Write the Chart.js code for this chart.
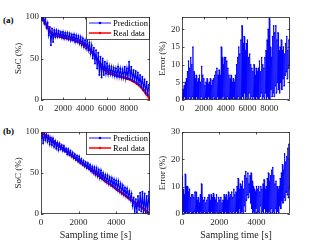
<!DOCTYPE html>
<html>
<head>
<meta charset="utf-8">
<script src="https://cdn.jsdelivr.net/npm/chart.js@4.4.1/dist/chart.umd.min.js"></script>
<style>
body{margin:0;background:#fff;width:321px;height:241px;overflow:hidden;position:relative}
canvas{position:absolute}
.tag{position:absolute;font:bold 9px "Liberation Serif",serif;line-height:10px;color:#000}
</style>
</head>
<body>
<div class="tag" style="left:3px;top:15px">(a)</div>
<div class="tag" style="left:3px;top:126px">(b)</div>
<canvas id="socA" width="160" height="115" style="left:0;top:0"></canvas>
<canvas id="errA" width="164" height="115" style="left:157px;top:0"></canvas>
<canvas id="socB" width="160" height="126" style="left:0;top:115px"></canvas>
<canvas id="errB" width="164" height="126" style="left:157px;top:115px"></canvas>
<script>
// sampling intervals (s) of each recorded series
var stepPredA = 100, stepRealA = 300, stepErrA = 50;
var stepPredB = 58, stepRealB = 290, stepErrB = 29;

// tick positions
var xTicksA = [0, 2000, 4000, 6000, 8000];
var xTicksB = [0, 2000, 4000];
var yTicksSoc = [0, 50, 100];
var yTicksErrA = [0, 5, 10, 15, 20];
var yTicksErrB = [0, 10, 20, 30];

// test (a)
var realA = [100, 95, 87.5, 81.5, 79, 77.5, 76.5, 75.6, 74.6, 73.6, 72.4, 71, 69, 66.6, 64, 60, 55,
	49, 43, 37.5, 34.4, 32.5, 31, 29.6, 28.4, 27.2, 26, 24.6, 22.5, 19.8, 16.8, 12, 6.6, 1.2];
var predA = [100, 96, 100, 92, 98, 87, 93, 78, 88, 66, 86, 70, 84, 76, 84, 76, 83, 76, 82, 75,
	82, 74, 81, 74, 81, 73, 80, 72, 79, 72, 79, 70, 78, 70, 77, 68, 76, 66, 74, 64,
	72, 62, 71, 60, 69, 56, 66, 50, 63, 44, 60, 38, 57, 30, 52, 27, 50, 30, 46, 32,
	44, 31, 41, 31, 40, 30, 39, 29, 38, 28, 40, 28, 38, 27, 37, 27, 40, 26, 38, 25,
	46, 25, 40, 23, 36, 22, 35, 20, 33, 18, 30, 15, 28, 12, 25, 8, 22, 6, 18, 20];
var errA = [2, 0.3, 3, 0.5, 4, 1, 5, 0.2, 6, 0.5,
	8, 0.4, 11, 1, 9, 0.3, 12, 0.5, 10, 1,
	15, 0.3, 8, 0.5, 6, 0.2, 7, 1, 5, 0.4,
	6, 0.5, 7, 0.3, 5, 1, 9.5, 0.2, 7, 0.5,
	6, 0.3, 4, 0.8, 5, 0.2, 6, 0.5, 4.5, 1,
	5, 0.3, 6, 0.5, 4, 0.2, 5.5, 1, 6, 0.4,
	7, 0.5, 8, 0.2, 9, 1, 7, 0.3, 8.5, 0.5,
	7, 0.3, 15, 0.5, 12, 1, 10, 0.2, 12, 0.5,
	12, 0.3, 11, 1, 9, 0.5, 7, 0.2, 6, 0.4,
	7, 0.5, 5, 0.3, 6, 1, 5, 0.2, 7, 0.5,
	10, 0.4, 12, 1, 15, 0.3, 13, 0.5, 17, 0.2,
	21, 1, 16, 0.5, 18, 2, 14, 0.3, 16, 1,
	17, 0.5, 12, 2, 13, 0.4, 10, 1, 9, 0.3,
	8, 1, 10, 0.5, 7, 0.2, 9, 1, 8, 0.5,
	9, 0.3, 11, 1, 8, 2, 12, 0.5, 10, 1,
	9, 0.5, 12, 2, 14, 0.3, 17, 1, 20, 0.5,
	23, 0.2, 15, 3, 12, 1, 18, 2, 21, 1,
	19, 4, 21, 2, 17, 5, 19, 3, 14, 2,
	15, 5, 17, 3, 14, 6, 15, 4, 13, 7,
	16, 8, 18, 6, 14, 9, 17, 10, 23];

// test (b)
var realB = [100, 95.2, 90.1, 85, 79.6, 74.5, 69.4, 64.5, 59.6, 54.5, 49.6, 44.6, 39.4, 34.6,
	29.5, 24.6, 19.8, 15, 10, 5.2, 0];
var predB = [92, 100, 86, 99, 90, 97, 88, 95, 85, 93, 84, 92, 82, 89, 80, 87, 78, 86, 79, 84,
	77, 83, 76, 80, 73, 79, 72, 77, 70, 75, 68, 73, 66, 71, 64, 70, 62, 67, 60, 65,
	58, 63, 56, 62, 55, 60, 52, 58, 50, 57, 48, 56, 46, 54, 44, 53, 43, 50, 41, 48,
	39, 47, 37, 45, 36, 44, 34, 42, 32, 41, 30, 40, 28, 37, 26, 35, 24, 32, 22, 31,
	20, 28, 17, 25, 10, 20, 0, 18, 2, 22, 5, 26, 3, 27, 1, 25, 0, 22, 2, 27, 5];
var errB = [14, 0.5, 9, 1, 7, 0.3, 14.5, 0.5, 10, 1,
	10, 0.3, 8, 0.5, 9, 1, 6, 0.2, 7, 0.5,
	7, 0.3, 6, 1, 8, 0.5, 8, 0.2, 5, 1,
	6, 0.5, 4, 0.3, 7, 1, 11, 0.2, 6, 0.5,
	5, 1, 6, 0.3, 4, 0.5, 5, 0.2, 6, 1,
	7, 0.5, 5, 0.3, 7, 1, 6, 0.2, 7.5, 0.5,
	6, 0.3, 5, 1, 7, 0.5, 4, 0.2, 6, 1,
	5, 0.5, 6, 0.3, 4, 1, 5, 0.2, 7, 0.5,
	6, 1, 7, 0.3, 5, 0.5, 8, 0.2, 6, 1,
	7, 0.5, 8, 0.3, 6, 1, 9, 0.2, 7, 0.5,
	8, 1, 10, 0.3, 13, 0.5, 9, 2, 11, 0.5,
	10, 1, 12, 0.3, 9, 3, 14, 1, 15.5, 5,
	13, 7, 15, 6, 11, 8, 14, 4, 15, 2,
	12, 0.5, 10, 1, 9, 0.3, 8, 2, 10, 0.5,
	9, 1, 10, 0.5, 8, 3, 10, 0.3, 9, 1,
	11, 0.5, 12.5, 2, 9, 0.3, 10, 1, 13, 0.5,
	15, 1, 12, 0.3, 14, 2, 16, 0.5, 17, 1,
	14, 0.5, 11, 2, 12, 0.3, 10, 1, 9, 0.5,
	10, 3, 13, 2, 15, 5, 18, 4, 16, 6,
	22, 5, 19, 8, 21, 7, 24, 6, 25.5, 9,
	23];

var serif = '"Liberation Serif", "Times New Roman", serif';
var ink = '#262626';

function toXY(values, step) {
	return values.map(function (v, i) {
		return { x: i * step, y: v };
	});
}

// box around the plot area with small inward ticks, like the original figure
var frame = {
	id: 'frame',
	afterDatasetsDraw: function (chart) {
		var a = chart.chartArea, ctx = chart.ctx;
		var xs = chart.scales.x, ys = chart.scales.y;
		ctx.save();
		ctx.strokeStyle = ink;
		ctx.lineWidth = 0.8;
		ctx.strokeRect(a.left + 0.5, a.top + 0.5, a.right - a.left - 1, a.bottom - a.top - 1);
		ctx.beginPath();
		xs.ticks.forEach(function (t) {
			var px = Math.round(xs.getPixelForValue(t.value)) + 0.5;
			ctx.moveTo(px, a.bottom); ctx.lineTo(px, a.bottom - 2.5);
			ctx.moveTo(px, a.top); ctx.lineTo(px, a.top + 2.5);
		});
		ys.ticks.forEach(function (t) {
			var py = Math.round(ys.getPixelForValue(t.value)) + 0.5;
			ctx.moveTo(a.left, py); ctx.lineTo(a.left + 2.5, py);
			ctx.moveTo(a.right, py); ctx.lineTo(a.right - 2.5, py);
		});
		ctx.stroke();
		ctx.restore();
	}
};

// legend in a framed box at the top right of the plot
var boxLegend = {
	id: 'boxLegend',
	afterDraw: function (chart) {
		if (!chart.options.plugins.boxLegend.show) return;
		var a = chart.chartArea, ctx = chart.ctx;
		var w = 63, h = 22;
		var x0 = a.right - w - 1, y0 = a.top;
		ctx.save();
		ctx.fillStyle = '#fff';
		ctx.fillRect(x0, y0, w, h);
		ctx.strokeStyle = ink;
		ctx.lineWidth = 0.8;
		ctx.strokeRect(x0 + 0.5, y0 + 0.5, w, h);
		ctx.font = '8.5px ' + serif;
		ctx.textBaseline = 'middle';
		chart.data.datasets.forEach(function (ds, i) {
			var yy = y0 + 6 + i * 10;
			ctx.strokeStyle = ds.borderColor;
			ctx.lineWidth = i == 0 ? 0.9 : 1.5;
			ctx.beginPath();
			ctx.moveTo(x0 + 3, yy); ctx.lineTo(x0 + 25, yy);
			ctx.stroke();
			ctx.fillStyle = ds.borderColor;
			ctx.beginPath();
			ctx.arc(x0 + 14, yy, 1.3, 0, Math.PI * 2);
			ctx.fill();
			ctx.fillStyle = '#000';
			ctx.fillText(ds.label, x0 + 27, yy + 0.5);
		});
		ctx.restore();
	}
};

function fixedTicks(list) {
	return function (scale) {
		scale.ticks = list.map(function (v) { return { value: v }; });
	};
}

function axes(o) {
	return {
		x: {
			type: 'linear', min: 0, max: o.xMax,
			grid: { display: false, drawTicks: false },
			border: { display: false },
			afterBuildTicks: fixedTicks(o.xTicks),
			ticks: { padding: 3, color: ink, maxRotation: 0, autoSkip: false,
				font: { family: serif, size: 9 },
				callback: function (v) { return String(v); } },
			title: { display: o.xTitle, text: 'Sampling time [s]', color: ink, padding: 0,
				font: { family: serif, size: 10 } },
			afterFit: function (s) { s.height = o.xH; }
		},
		y: {
			min: 0, max: o.yMax,
			grid: { display: false, drawTicks: false },
			border: { display: false },
			afterBuildTicks: fixedTicks(o.yTicks),
			ticks: { padding: 2, color: ink, autoSkip: false,
				font: { family: serif, size: 9 },
				callback: function (v) { return String(v); } },
			title: { display: true, text: o.yTitle, color: ink, padding: { top: o.yPad, bottom: 0 },
				font: { family: serif, size: 9 } },
			afterFit: function (s) { s.width = o.yW; }
		}
	};
}

function makeChart(id, datasets, o) {
	return new Chart(document.getElementById(id).getContext('2d'), {
		type: 'line',
		data: { datasets: datasets },
		options: {
			responsive: false,
			animation: false,
			devicePixelRatio: 1,
			layout: { padding: { left: 0, top: 17, right: o.padR, bottom: 0 } },
			plugins: { legend: { display: false }, tooltip: { enabled: false }, boxLegend: { show: o.legend } },
			scales: axes(o)
		},
		plugins: [frame, boxLegend]
	});
}

function predSet(values, step) {
	return {
		label: 'Prediction', data: toXY(values, step),
		borderColor: '#0000ff', backgroundColor: '#0000ff',
		borderWidth: 1.1, pointRadius: 1, pointBorderWidth: 0, tension: 0
	};
}

function realSet(values, step) {
	return {
		label: 'Real data', data: toXY(values, step),
		borderColor: '#ff0000', backgroundColor: '#ff0000',
		borderWidth: 2.4, pointRadius: 1.4, pointBorderWidth: 0, tension: 0
	};
}

function errSet(values, step) {
	return {
		label: 'Error', data: toXY(values, step),
		borderColor: '#0000ff', backgroundColor: '#0000ff',
		borderWidth: 0.8, pointRadius: 0.8, pointBorderWidth: 0, tension: 0
	};
}

makeChart('socA', [predSet(predA, stepPredA), realSet(realA, stepRealA)],
	{ xMax: 9900, xTicks: xTicksA, yMax: 100, yTicks: yTicksSoc, yTitle: 'SoC (%)', yW: 41, yPad: 13, xH: 15, xTitle: false, padR: 10, legend: true });
makeChart('errA', [errSet(errA, stepErrA)],
	{ xMax: 9900, xTicks: xTicksA, yMax: 23.5, yTicks: yTicksErrA, yTitle: 'Error (%)', yW: 25, yPad: 0, xH: 15, xTitle: false, padR: 31, legend: false });
makeChart('socB', [predSet(predB, stepPredB), realSet(realB, stepRealB)],
	{ xMax: 5800, xTicks: xTicksB, yMax: 100, yTicks: yTicksSoc, yTitle: 'SoC (%)', yW: 41, yPad: 13, xH: 27, xTitle: true, padR: 10, legend: true });
makeChart('errB', [errSet(errB, stepErrB)],
	{ xMax: 5800, xTicks: xTicksB, yMax: 30, yTicks: yTicksErrB, yTitle: 'Error (%)', yW: 25, yPad: 0, xH: 27, xTitle: true, padR: 31, legend: false });
</script>
</body>
</html>
